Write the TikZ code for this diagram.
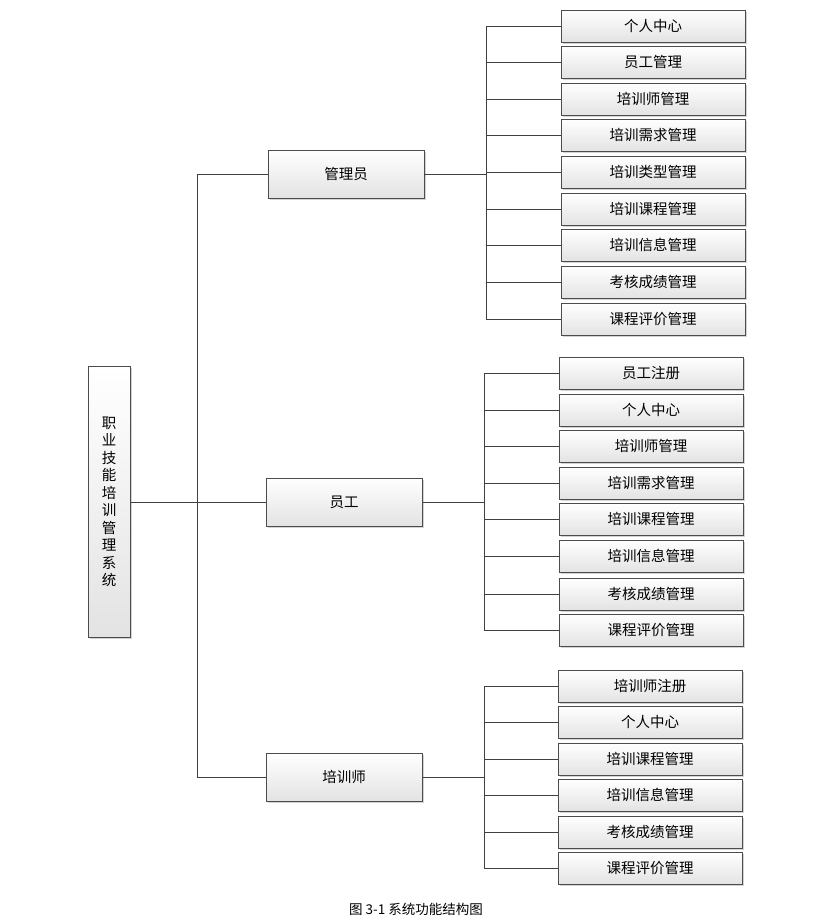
\documentclass[tikz,border=0pt]{standalone}
\usepackage{fontspec}
\setmainfont{Noto Sans CJK SC}
\usetikzlibrary{shadows}
\begin{document}
\begin{tikzpicture}[
    x=1pt,
    y=-1pt,
    font=\fontsize{14.5}{17.5}\selectfont,
    box/.style={draw=gray!60!black, top color=white, bottom color=gray!22,
        drop shadow={shadow xshift=1.5pt, shadow yshift=-1.5pt, opacity=0.35},
        inner sep=0pt},
    leaf/.style={box, minimum width=184, minimum height=32},
    role/.style={box, minimum width=156, minimum height=48},
    ln/.style={draw=gray!50!black, line width=0.6pt},
]
    \useasboundingbox (0,0) rectangle (821,924);
    % root
    \node[box, minimum width=42, minimum height=271, align=center] (root) at (109,502)
        {职\\业\\技\\能\\培\\训\\管\\理\\系\\统};
    % roles
    \node[role] (admin) at (346,174) {管理员};
    \node[role] (staff) at (344,502) {员工};
    \node[role] (teach) at (344,777) {培训师};
    \coordinate (t0) at (197,174);
    \coordinate (t1) at (197,777);
    \coordinate (tm) at (197,502);
    \path[ln] (t0) -- (t1);
    \path[ln] (root.east) -- (staff.west);
    \path[ln] (t0) -- (admin.west);
    \path[ln] (t1) -- (teach.west);

    % admin leaves
    \coordinate (b0) at (486,174);
    \path[ln] (admin.east) -- (b0);
    \foreach \t/\y [count=\i] in {个人中心/26, 员工管理/62, 培训师管理/99, 培训需求管理/135,
        培训类型管理/172, 培训课程管理/209, 培训信息管理/245, 考核成绩管理/282, 课程评价管理/319} {
        \node[leaf] (a\i) at (653,\y) {\t};
        \coordinate (ab\i) at (486,\y);
        \path[ln] (ab\i) -- (a\i.west);
    }
    \path[ln] (ab1) -- (ab9);

    % staff leaves
    \coordinate (b1) at (484,502);
    \path[ln] (staff.east) -- (b1);
    \foreach \t/\y [count=\i] in {员工注册/373, 个人中心/410, 培训师管理/446, 培训需求管理/483,
        培训课程管理/519, 培训信息管理/556, 考核成绩管理/594, 课程评价管理/630} {
        \node[leaf] (s\i) at (651,\y) {\t};
        \coordinate (sb\i) at (484,\y);
        \path[ln] (sb\i) -- (s\i.west);
    }
    \path[ln] (sb1) -- (sb8);

    % trainer leaves
    \coordinate (b2) at (484,777);
    \path[ln] (teach.east) -- (b2);
    \foreach \t/\y [count=\i] in {培训师注册/686, 个人中心/722, 培训课程管理/759,
        培训信息管理/795, 考核成绩管理/832, 课程评价管理/868} {
        \node[leaf] (p\i) at (650,\y) {\t};
        \coordinate (pb\i) at (484,\y);
        \path[ln] (pb\i) -- (p\i.west);
    }
    \path[ln] (pb1) -- (pb6);

    \node[font=\fontsize{13.5}{16}\selectfont] (cap) at (416,909) {图 3-1 系统功能结构图};
\end{tikzpicture}
\end{document}
